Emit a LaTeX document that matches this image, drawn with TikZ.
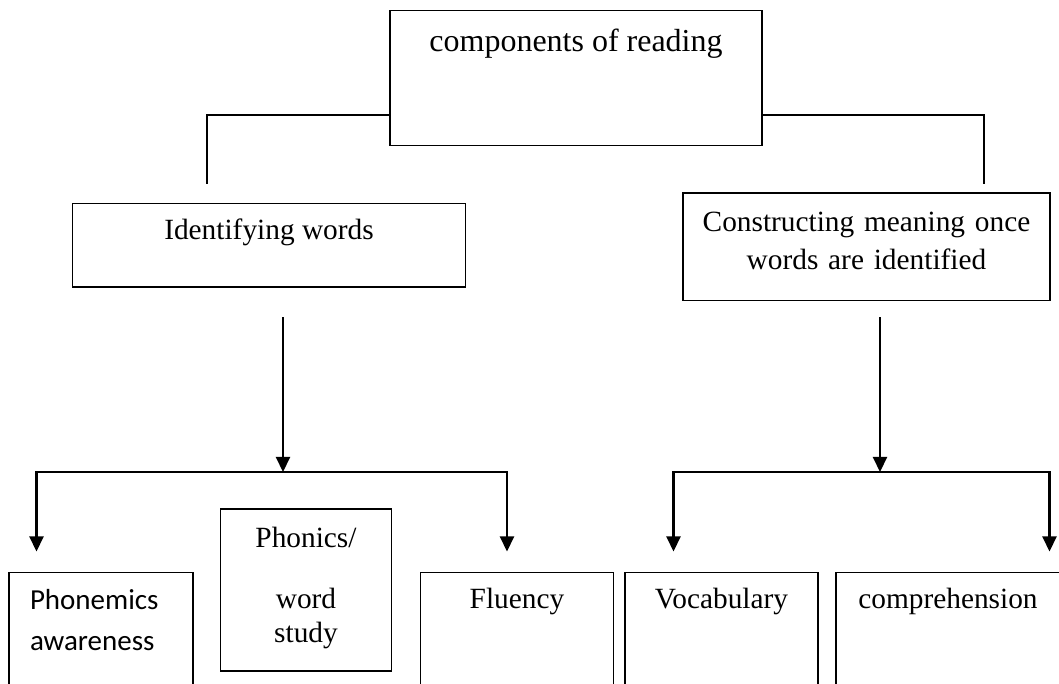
\documentclass[tikz,border=0pt]{standalone}
\usepackage{fontspec}
\setmainfont{Liberation Serif}
\newfontfamily\calibrifont{Carlito}
\usetikzlibrary{arrows.meta,calc}

\begin{document}
\begin{tikzpicture}[
      box/.style={rectangle, draw=black, line width=0.8pt, anchor=north, inner sep=0pt, align=center, font=\fontsize{16.7}{21.4}\selectfont},
      leaf/.style={box, text height=0.72cm, text depth=2.3cm},
      link/.style={line width=0.8pt},
      arr/.style={-{Triangle[length=0.30cm, width=0.28cm]}, line width=1.2pt}
    ]
      \useasboundingbox (0,0) rectangle (21.18,13.68);

      % Top box
      \node[box, minimum width=7.44cm, text height=0.82cm, text depth=1.88cm, font=\fontsize{18.2}{22}\selectfont] (reading) at (11.52, 13.48) {components of reading};

      % Second level
      \node[box, minimum width=7.86cm, text height=0.72cm, text depth=0.95cm] (identify) at (5.38, 9.62) {Identifying words};
      \node[box, text width=7.34cm, text height=0.77cm, text depth=1.38cm] (meaning) at (17.33, 9.83) {Constructing meaning once\\words are identified};

      % Bottom level
      \node[leaf, minimum width=3.68cm, text width=2.84cm, inner xsep=0.42cm, align=left, text height=0.74cm, font=\calibrifont\fontsize{16.5}{23.3}\selectfont] (phonemic) at (2.02, 2.24) {Phonemics\\awareness};
      \node[box, text width=3.41cm, text height=0.77cm, text depth=2.47cm, font=\fontsize{16.7}{19.2}\selectfont] (phonics) at (6.12, 3.51) {Phonics/\\[15.5pt]word\\study};
      \node[leaf, minimum width=3.85cm] (fluency) at (10.34, 2.24) {Fluency};
      \node[leaf, minimum width=3.86cm] (vocab) at (14.43, 2.24) {Vocabulary};
      \node[leaf, minimum width=4.48cm] (compre) at (18.96, 2.24) {comprehension};

      % Branches from the top
      \coordinate (idTop) at (4.14, 9.99);
      \coordinate (cmTop) at (19.68, 9.99);
      \draw[link] ($(reading.south west)+(0,0.63)$) -| (idTop);
      \draw[link] ($(reading.south east)+(0,0.63)$) -| (cmTop);

      % Left arrows
      \coordinate (idOut) at (5.66, 7.33);
      \coordinate (idHub) at (5.66, 4.24);
      \coordinate (phIn) at (0.73, 2.65);
      \coordinate (flIn) at (10.14, 2.65);
      \draw[arr] (idOut) -- (idHub);
      \draw[arr] (idHub) -| (phIn);
      \draw[arr] (idHub) -| (flIn);

      % Right arrows
      \coordinate (cmOut) at (17.60, 7.33);
      \coordinate (cmHub) at (17.60, 4.24);
      \coordinate (voIn) at (13.47, 2.65);
      \coordinate (coIn) at (20.99, 2.65);
      \draw[arr] (cmOut) -- (cmHub);
      \draw[arr] (cmHub) -| (voIn);
      \draw[arr] (cmHub) -| (coIn);
    \end{tikzpicture}
\end{document}
